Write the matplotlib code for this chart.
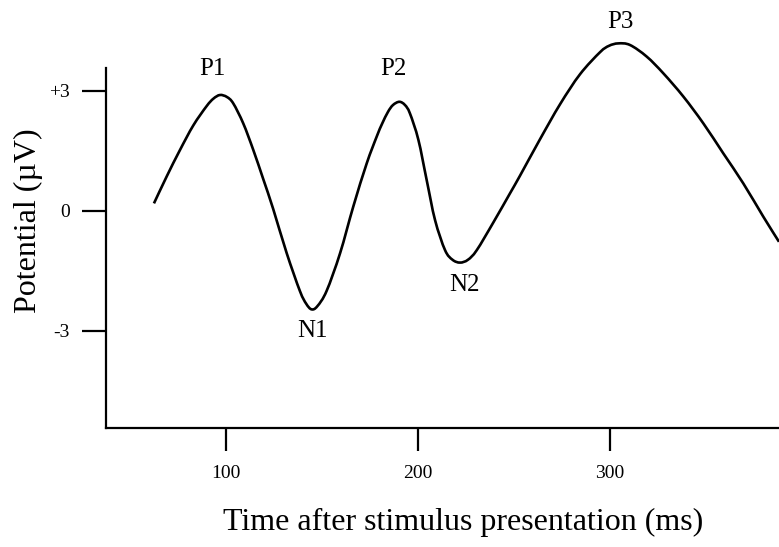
import matplotlib
matplotlib.use("Agg")
import matplotlib.pyplot as plt
import numpy as np
from matplotlib.path import Path
from matplotlib.patches import PathPatch

plt.rcParams['font.family'] = ['Liberation Serif', 'DejaVu Serif']

# ERP waveform (time in ms, potential in microvolts)
t_ms = [62.5, 69.1, 76.0, 83.0, 89.9, 93.5, 96.9, 100.5, 103.8, 109.0,
        114.2, 119.4, 124.6, 131.6, 138.5, 141.8, 144.6, 147.6, 152.4, 159.4,
        166.3, 173.3, 178.5, 181.3, 184.4, 187.0, 190.3, 193.2, 195.8, 200.2,
        204.5, 208.9, 214.1, 218.0, 221.9, 226.0, 230.6, 239.2, 247.9, 253.1,
        263.5, 274.0, 284.4, 294.8, 299.5, 304.3, 310.4, 319.1, 327.8, 338.2,
        348.6, 359.0, 369.4, 379.8, 388.0]
potential = [0.19, 0.86, 1.52, 2.14, 2.62, 2.81, 2.90, 2.85, 2.69, 2.19,
             1.53, 0.80, 0.05, -1.05, -2.00, -2.32, -2.46, -2.38, -2.00, -1.06,
             0.11, 1.19, 1.86, 2.18, 2.48, 2.65, 2.73, 2.65, 2.44, 1.78,
             0.78, -0.23, -0.98, -1.22, -1.29, -1.22, -0.98, -0.29, 0.44, 0.88,
             1.79, 2.67, 3.42, 3.97, 4.13, 4.19, 4.15, 3.86, 3.44, 2.86,
             2.19, 1.44, 0.69, -0.14, -0.77]

# component labels and where they sit
comp_names = ['P1', 'N1', 'P2', 'N2', 'P3']
comp_t = [93.2, 144.8, 187.0, 224.0, 305.2]
comp_v = [3.55, -3.0, 3.55, -1.85, 4.73]

xticks = [100, 200, 300]
yticks = [3, 0, -3]
ytick_labels = ['+3', '0', '-3']


def smooth_path(x, y):
    # Catmull-Rom through the samples, written as cubic Bezier segments
    p = np.column_stack([x, y])
    ext = np.vstack([p[0], p, p[-1]])
    verts = [p[0]]
    codes = [Path.MOVETO]
    for i in range(1, len(ext) - 2):
        c1 = ext[i] + (ext[i + 1] - ext[i - 1]) / 6.0
        c2 = ext[i + 1] - (ext[i + 2] - ext[i]) / 6.0
        verts += [c1, c2, ext[i + 1]]
        codes += [Path.CURVE4] * 3
    return Path(verts, codes)


fig = plt.figure(figsize=(7.79, 5.47), dpi=100)
ax = fig.add_axes([0.136, 0.2176, 0.864, 0.6581])

wave = PathPatch(smooth_path(t_ms, potential), fill=False, edgecolor='black',
                 lw=1.9, capstyle='butt', joinstyle='round', clip_on=False)
ax.add_patch(wave)

for name, t, v in zip(comp_names, comp_t, comp_v):
    ax.text(t, v, name, fontsize=18, ha='center', va='center', clip_on=False)

ax.set_xlim(37.5, 388.0)
ax.set_ylim(-5.425, 3.575)

ax.spines['top'].set_visible(False)
ax.spines['right'].set_visible(False)
ax.spines['left'].set_linewidth(1.6)
ax.spines['bottom'].set_linewidth(1.6)

ax.set_xticks(xticks)
ax.set_xticklabels([str(x) for x in xticks])
ax.set_yticks(yticks)
ax.set_yticklabels(ytick_labels)
ax.tick_params(axis='x', direction='out', length=16.5, width=1.6,
               labelsize=14, pad=10)
ax.tick_params(axis='y', direction='out', length=17, width=1.6,
               labelsize=14, pad=9)

fig.text(0.595, 0.044, 'Time after stimulus presentation (ms)',
         fontsize=23, ha='center', va='center')
fig.text(0.036, 0.596, 'Potential (\u00b5V)', fontsize=23,
         ha='center', va='center', rotation=90)

fig.savefig('out.png', dpi=100)
